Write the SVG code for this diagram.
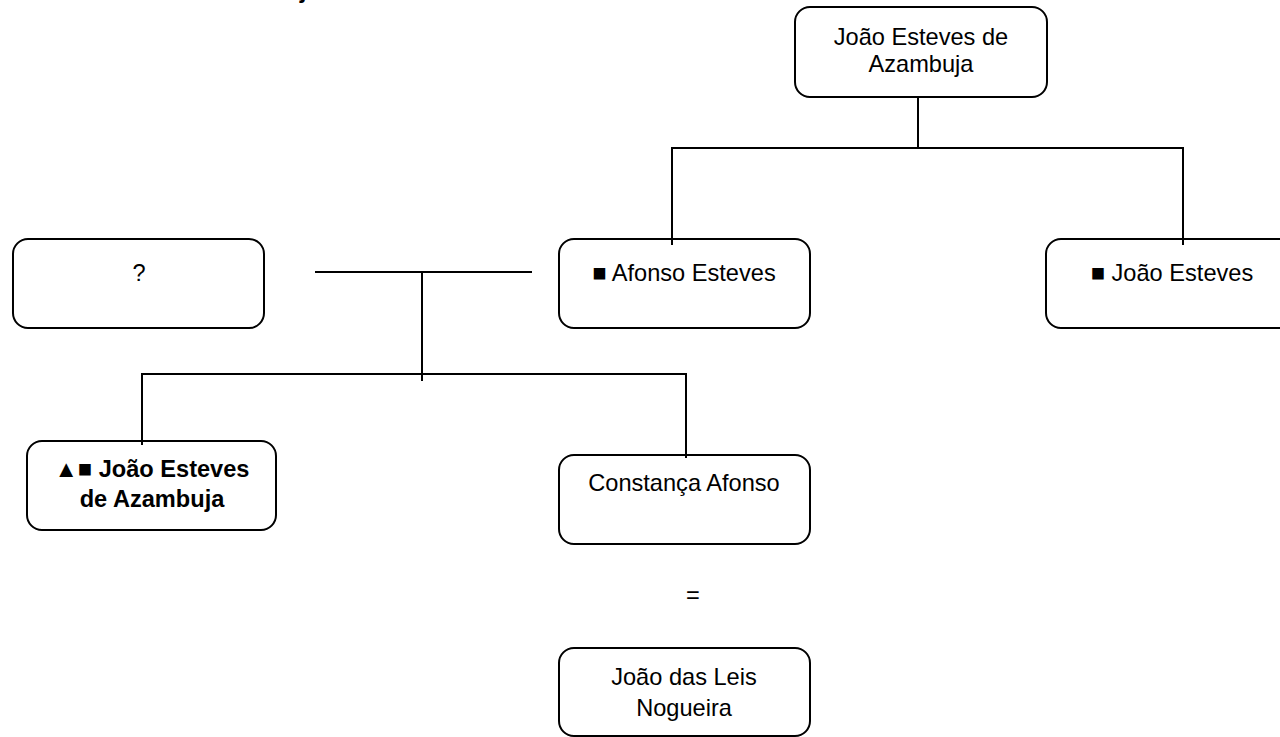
<svg xmlns="http://www.w3.org/2000/svg" width="1280" height="737" viewBox="0 0 1280 737">
  <style>
    .box { fill: #ffffff; stroke: #000000; stroke-width: 2; }
    .lbl { font-family: "Liberation Sans", Arial, sans-serif; font-size: 23.6px; fill: #000000; text-anchor: middle; }
    .bold { font-weight: bold; }
    .link { stroke: #000000; stroke-width: 2; fill: none; }
  </style>
  <rect width="1280" height="737" fill="#ffffff"/>

  <!-- heading, mostly above the visible area -->
  <text x="303" y="-2" class="lbl bold" style="font-size:24px">j</text>

  <g id="node-joao-esteves-azambuja-sr">
    <rect class="box" x="795" y="7" width="252" height="90" rx="15"/>
    <text class="lbl" x="921" y="45">João Esteves de</text>
    <text class="lbl" x="921" y="72">Azambuja</text>
  </g>

  <g id="node-unknown">
    <rect class="box" x="13" y="239" width="251" height="89" rx="15"/>
    <text class="lbl" x="139" y="281">?</text>
  </g>

  <g id="node-afonso-esteves">
    <rect class="box" x="559" y="239" width="251" height="89" rx="15"/>
    <text class="lbl" x="684" y="281">■ Afonso Esteves</text>
  </g>

  <g id="node-joao-esteves">
    <rect class="box" x="1046" y="239" width="252" height="89" rx="15"/>
    <text class="lbl" x="1172" y="281">■ João Esteves</text>
  </g>

  <g id="node-joao-esteves-azambuja">
    <rect class="box" x="27" y="441" width="249" height="89" rx="15"/>
    <text class="lbl bold" x="152" y="477">▲■ João Esteves</text>
    <text class="lbl bold" x="152" y="507">de Azambuja</text>
  </g>

  <g id="node-constanca-afonso">
    <rect class="box" x="559" y="455" width="251" height="89" rx="15"/>
    <text class="lbl" x="684" y="491">Constança Afonso</text>
  </g>

  <g id="marriage-sign">
    <text class="lbl" x="693" y="603">=</text>
  </g>

  <g id="node-joao-das-leis-nogueira">
    <rect class="box" x="559" y="648" width="251" height="88" rx="15"/>
    <text class="lbl" x="684" y="685">João das Leis</text>
    <text class="lbl" x="684" y="716">Nogueira</text>
  </g>

  <!-- connectors, drawn over the box edges -->
  <g id="connectors">
    <line class="link" x1="918" y1="97" x2="918" y2="148"/>
    <line class="link" x1="671" y1="148" x2="1184" y2="148"/>
    <line class="link" x1="672" y1="148" x2="672" y2="245"/>
    <line class="link" x1="1183" y1="148" x2="1183" y2="245"/>
    <line class="link" x1="315" y1="272" x2="532" y2="272"/>
    <line class="link" x1="422" y1="272" x2="422" y2="381"/>
    <line class="link" x1="141" y1="374" x2="687" y2="374"/>
    <line class="link" x1="142" y1="374" x2="142" y2="445"/>
    <line class="link" x1="686" y1="374" x2="686" y2="458"/>
  </g>
</svg>
